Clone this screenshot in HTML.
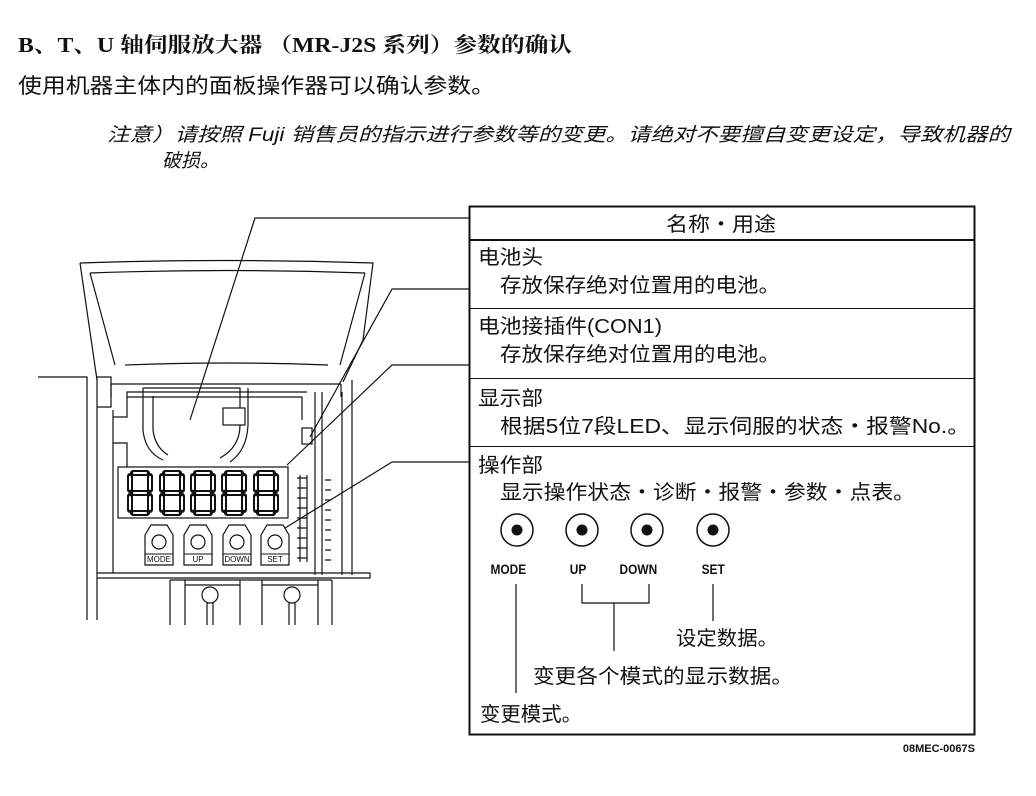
<!DOCTYPE html>
<html><head><meta charset="utf-8"><style>
html,body{margin:0;padding:0;background:#fff}
svg{display:block}
text{font-family:"Liberation Sans","Noto Sans CJK SC",sans-serif;fill:#111}
.s{font-family:"Liberation Serif","Noto Serif CJK SC","Noto Sans CJK SC",serif}
</style></head><body>
<svg width="1036" height="796" viewBox="0 0 1036 796" xmlns="http://www.w3.org/2000/svg">
<defs>
<g id="dg">
 <path d="M4 2 H18 M21 5 V19 M21 25 V39 M18 42 H4 M1 39 V25 M1 19 V5 M4 22 H18" stroke="#111" stroke-width="6" stroke-linecap="round" fill="none"/>
 <path d="M5 2 H17 M21 6 V18 M21 26 V38 M17 42 H5 M1 38 V26 M1 18 V6 M5 22 H17" stroke="#fff" stroke-width="2" stroke-linecap="round" fill="none"/>
</g>
<g id="bt">
 <path d="M0 10 L6 0 H22 L28 10 V40 H0 Z" fill="#fff" stroke="#111" stroke-width="1.2"/>
 <line x1="0" y1="29" x2="28" y2="29" stroke="#111"/>
 <circle cx="14" cy="17" r="7" fill="#fff" stroke="#111" stroke-width="1.2"/>
</g>
</defs>
<text class="s" x="18" y="52" font-size="21" font-weight="bold" textLength="554" lengthAdjust="spacingAndGlyphs">B、T、U 轴伺服放大器 （MR-J2S 系列）参数的确认</text>
<text x="18" y="93" font-size="21" textLength="477" lengthAdjust="spacingAndGlyphs">使用机器主体内的面板操作器可以确认参数。</text>
<text x="107" y="141" font-size="19" font-style="italic" textLength="903" lengthAdjust="spacingAndGlyphs">注意）请按照 Fuji 销售员的指示进行参数等的变更。请绝对不要擅自变更设定，导致机器的</text>
<text x="162" y="167" font-size="19" font-style="italic">破损。</text>

<g stroke="#111" fill="none">
<rect x="469.5" y="206.5" width="505" height="528" stroke-width="2"/>
<line x1="469" y1="240" x2="975" y2="240" stroke-width="2"/>
<line x1="469" y1="308.5" x2="975" y2="308.5"/>
<line x1="469" y1="378.5" x2="975" y2="378.5"/>
<line x1="469" y1="446.5" x2="975" y2="446.5"/>
</g>
<g font-size="20" lengthAdjust="spacingAndGlyphs">
<text x="666" y="231" textLength="110" lengthAdjust="spacingAndGlyphs">名称・用途</text>
<text x="478" y="264" textLength="65" lengthAdjust="spacingAndGlyphs">电池头</text>
<text x="500" y="292" textLength="280" lengthAdjust="spacingAndGlyphs">存放保存绝对位置用的电池。</text>
<text x="478" y="333" textLength="184" lengthAdjust="spacingAndGlyphs">电池接插件(CON1)</text>
<text x="500" y="361" textLength="280" lengthAdjust="spacingAndGlyphs">存放保存绝对位置用的电池。</text>
<text x="478" y="405" textLength="65" lengthAdjust="spacingAndGlyphs">显示部</text>
<text x="500" y="433" textLength="470" lengthAdjust="spacingAndGlyphs">根据5位7段LED、显示伺服的状态・报警No.。</text>
<text x="478" y="472" textLength="65" lengthAdjust="spacingAndGlyphs">操作部</text>
<text x="500" y="499" textLength="415" lengthAdjust="spacingAndGlyphs">显示操作状态・诊断・报警・参数・点表。</text>
<text x="676" y="645" textLength="102" lengthAdjust="spacingAndGlyphs">设定数据。</text>
<text x="533" y="683" textLength="260" lengthAdjust="spacingAndGlyphs">变更各个模式的显示数据。</text>
<text x="480" y="721" textLength="102" lengthAdjust="spacingAndGlyphs">变更模式。</text>
</g>
<g stroke="#111" stroke-width="1.5" fill="#fff">
<circle cx="517" cy="530" r="16"/><circle cx="582" cy="530" r="16"/><circle cx="647" cy="530" r="16"/><circle cx="713" cy="530" r="16"/>
</g>
<g fill="#111"><circle cx="517" cy="530" r="5.5"/><circle cx="582" cy="530" r="5.5"/><circle cx="647" cy="530" r="5.5"/><circle cx="713" cy="530" r="5.5"/></g>
<g font-size="14" font-weight="bold" text-anchor="middle" transform="scale(0.85,1)">
<text x="598" y="574">MODE</text><text x="680" y="574">UP</text><text x="751" y="574">DOWN</text><text x="839" y="574">SET</text>
</g>
<g stroke="#111" stroke-width="1.2" fill="none">
<line x1="516" y1="584" x2="516" y2="693"/>
<polyline points="582,584 582,603 649,603 649,584"/>
<line x1="614" y1="603" x2="614" y2="651"/>
<line x1="713" y1="584" x2="713" y2="621"/>
</g>
<text x="975" y="752" font-size="11" font-weight="bold" text-anchor="end">08MEC-0067S</text>

<g stroke="#111" stroke-width="1.2" fill="none">
 <path d="M80 263 Q226 258 373 263 L363 340 L343 382"/>
 <path d="M80 263 L97 380"/>
 <path d="M90 273 Q226 268 365 273"/>
 <path d="M90 273 L115 365 M365 273 L340 365 M125 365 Q226 361 328 365"/>
 <path d="M38 377 H87 V620 M97 377 V620"/>
 <path d="M97 377 H111 V407 H97"/>
 <path d="M111 384 H341 M111 384 V397 M341 384 V397"/>
 <path d="M113 410 V573 M113 417 H127 V392 H307"/>
 <path d="M127 397 H302 V420"/>
 <path d="M143 388 V430 Q145 452 163 460 M153 396 V430 Q155 447 168 455 M143 388 H240 V425 M240 425 Q240 447 220 458 M248 388 V425 Q247 450 230 462"/>
 <rect x="223" y="408" width="22" height="17" fill="#fff"/>
 <rect x="302" y="428" width="10" height="16"/>
 <path d="M315 392 V575 M322 392 V575 M342 392 V575 M352 380 V575"/>
 <path d="M97 573 H370 V578 H97"/>
 <rect x="118" y="467" width="170" height="51" fill="#fff"/>
 <path d="M113 443 H127 V467"/>
 <path d="M170 580 V625 M332 580 V625 M185 580 V625 M240 580 V625 M262 580 V625 M318 580 V625 M170 580 H332 M185 585 H240 M262 585 H318"/>
 <circle cx="210" cy="595" r="8"/><circle cx="292" cy="595" r="8"/>
 <path d="M207 603 V625 M213 603 V625 M289 603 V625 M295 603 V625"/>
 <path d="M297 478 H307 M297 488 H307 M297 498 H307 M297 508 H307 M297 518 H307 M297 528 H307 M297 538 H307 M297 548 H307 M297 558 H307 M300 475 V562 M307 475 V562"/>
 <path d="M325 480 H331 M325 490 H331 M325 500 H331 M325 510 H331 M325 520 H331 M325 530 H331 M325 540 H331 M325 550 H331 M325 560 H331"/>
 <path d="M469 218 H255 L190 420"/>
 <path d="M469 289 H392 L310 437"/>
 <path d="M469 365 H392 L287 465"/>
 <path d="M469 462 H392 L285 528"/>
</g>
<use href="#dg" x="129" y="471"/><use href="#dg" x="161" y="471"/><use href="#dg" x="192" y="471"/><use href="#dg" x="223" y="471"/><use href="#dg" x="255" y="471"/>
<use href="#bt" x="145" y="525"/><use href="#bt" x="184" y="525"/><use href="#bt" x="223" y="525"/><use href="#bt" x="261" y="525"/>
<g font-size="8" text-anchor="middle">
<text x="159" y="562">MODE</text><text x="198" y="562">UP</text><text x="237" y="562">DOWN</text><text x="275" y="562">SET</text>
</g>
</svg>
</body></html>
